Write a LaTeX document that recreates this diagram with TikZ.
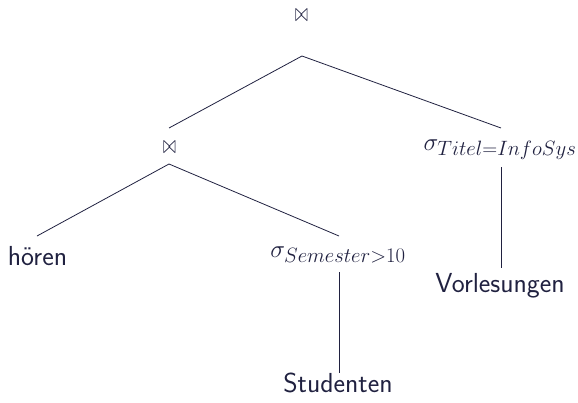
\documentclass[tikz,border=0pt]{standalone}
\usepackage{graphicx}
\usetikzlibrary{calc}
\DeclareMathSizes{25.5}{25.5}{20.5}{15}
\definecolor{ink}{RGB}{32,33,64}
\begin{document}
\begin{tikzpicture}[x=1pt,y=-1pt,
  lbl/.style={inner sep=0pt,anchor=base,text=ink,font=\fontsize{27.5}{33}\selectfont\sffamily},
  mlbl/.style={inner sep=0pt,anchor=base,text=ink,font=\fontsize{25.5}{30}\selectfont},
  op/.style={inner sep=0pt,anchor=center,text=ink},
  edge/.style={draw=ink,line width=0.8pt}]
\useasboundingbox (0,0) rectangle (578,402);
% nodes
\node[op] (root) at (301.5,15.5) {\resizebox{13pt}{12pt}{$\bowtie$}};
\node[op] (j2) at (169.5,147) {\resizebox{13pt}{12pt}{$\bowtie$}};
\node[mlbl] (sT) at (500,150) {$\sigma_{Titel=InfoSys}$};
\node[lbl] (hoeren) at (37.5,265) {hören};
\node[mlbl] (sS) at (338,257) {$\sigma_{Semester>10}$};
\node[lbl] (stud) at (338,392) {Studenten};
\node[lbl] (vorl) at (500,292) {Vorlesungen};
% edges
\draw[edge] ($(root)+(0.5,40.5)$) -- ($(j2)+(-0.5,-19)$);
\draw[edge] ($(root)+(0.5,40.5)$) -- ($(sT.base)+(1,-22)$);
\draw[edge] ($(j2)+(-0.5,17)$) -- ($(hoeren.base)+(-0.5,-29)$);
\draw[edge] ($(j2)+(-0.5,17)$) -- ($(sS.base)+(1,-21)$);
\draw[edge] ($(sS.base)+(1,15)$) -- ($(stud.base)+(1,-19)$);
\draw[edge] ($(sT.base)+(1,17)$) -- ($(vorl.base)+(1,-24)$);
\end{tikzpicture}
\end{document}
